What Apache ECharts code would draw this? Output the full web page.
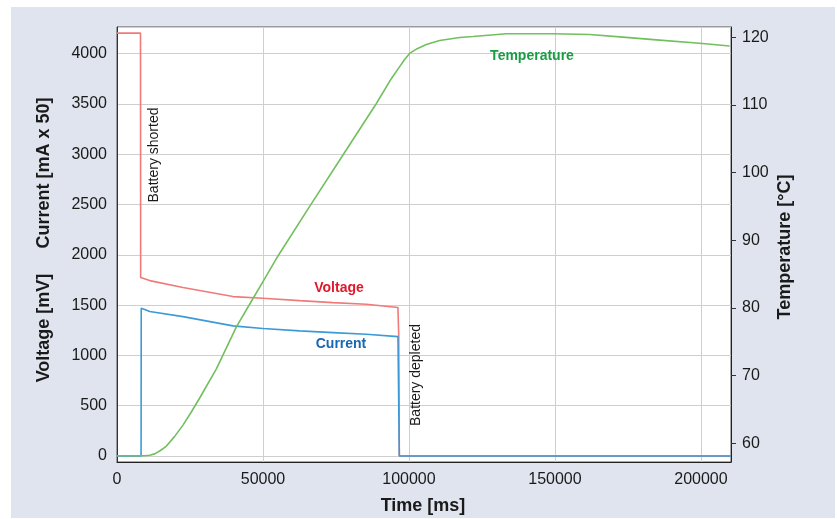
<!DOCTYPE html>
<html>
<head>
<meta charset="utf-8">
<script src="https://cdn.jsdelivr.net/npm/echarts@6.0.0/dist/echarts.min.js"></script>
<style>
  html, body { margin: 0; padding: 0; background: #fff; }
  #chart {
    width: 837px;
    height: 519px;
    background: linear-gradient(#dfe4ee, #dfe4ee) 11px 7px / 824px 511px no-repeat, #fff;
  }
</style>
</head>
<body>
<div id="chart"></div>
<script>
// time [ms] / value pairs
const voltage = [
  [0, 4205], [8050, 4205], [8100, 1775], [11200, 1744], [22600, 1675],
  [39730, 1585], [50000, 1569], [62570, 1545], [73970, 1525], [85410, 1509],
  [96230, 1476], [96500, 1190], [96700, 0], [210300, 0]
]
const current = [
  [0, 0], [8250, 0], [8300, 1470], [9700, 1455], [11200, 1436], [22600, 1386],
  [39730, 1294], [50000, 1267], [62570, 1244], [73970, 1227], [85410, 1211],
  [96230, 1187], [96700, 0], [210300, 0]
]
const temperature = [
  [0, 58.17], [9490, 58.17], [11200, 58.25], [12910, 58.45], [14900, 58.95], [16920, 59.6],
  [19700, 61.0], [22600, 62.7], [25400, 64.6], [28320, 66.7], [34040, 71.0], [40890, 77.2],
  [46580, 81.4], [50000, 83.9], [54590, 87.3], [65990, 95.0], [77400, 102.6], [88840, 110.2],
  [94000, 113.9], [96820, 115.65], [98500, 116.7], [100240, 117.6], [102800, 118.3],
  [105960, 118.9], [110510, 119.5], [117360, 119.95], [121920, 120.1],
  [133360, 120.5], [149320, 120.5], [161880, 120.4], [173290, 120.0], [184730, 119.6],
  [199560, 119.1], [209830, 118.7]
]

const chart = echarts.init(document.getElementById('chart'), null, { renderer: 'canvas' })

const plain = v => String(v)
const labelFont = { color: '#1a1a1a', fontSize: 16, fontFamily: 'Liberation Sans, Arial, sans-serif', formatter: plain }
const boldText = (x, y, text, rot, size, color) => ({
  type: 'text', x: x, y: y, rotation: rot, z: 100,
  style: {
    text: text, fill: color || '#1a1a1a', align: 'center', verticalAlign: 'middle',
    font: 'bold ' + size + 'px "Liberation Sans", Arial, sans-serif'
  }
})
const plainText = (x, y, text) => ({
  type: 'text', x: x, y: y, rotation: Math.PI / 2, z: 100,
  style: {
    text: text, fill: '#1a1a1a', align: 'center', verticalAlign: 'middle',
    font: '14px "Liberation Sans", Arial, sans-serif'
  }
})

const option = {
  backgroundColor: 'transparent',
  animation: false,
  grid: {
    left: 117, right: 106, top: 27, bottom: 57,
    show: true, backgroundColor: '#fff', borderColor: '#555', borderWidth: 1
  },
  xAxis: {
    type: 'value', min: 0, max: 210300, splitNumber: 4,
    axisLine: { show: true, onZero: false, lineStyle: { color: '#222' } },
    axisTick: { show: false },
    axisLabel: Object.assign({ margin: 10, showMaxLabel: false }, labelFont),
    splitLine: { show: true, lineStyle: { color: '#cfcfcf' } }
  },
  yAxis: [
    {
      type: 'value', min: -60, max: 4266, splitNumber: 8,
      axisLine: { show: true, onZero: false, lineStyle: { color: '#333' } },
      axisTick: { show: false },
      axisLabel: Object.assign({ margin: 10, showMinLabel: false, showMaxLabel: false }, labelFont),
      splitLine: { show: true, lineStyle: { color: '#cfcfcf' } }
    },
    {
      type: 'value', position: 'right', min: 57.25, max: 121.5, splitNumber: 6,
      axisLine: { show: true, onZero: false, lineStyle: { color: '#222' } },
      axisTick: { show: true, length: 5, lineStyle: { color: '#333' } },
      axisLabel: Object.assign({ margin: 11, showMinLabel: false, showMaxLabel: false }, labelFont),
      splitLine: { show: false }
    }
  ],
  series: [
    {
      name: 'Voltage', type: 'line', data: voltage, yAxisIndex: 0, showSymbol: false, z: 2,
      lineStyle: { color: '#f07a7a', width: 1.6 }
    },
    {
      name: 'Current', type: 'line', data: current, yAxisIndex: 0, showSymbol: false, z: 3,
      lineStyle: { color: '#3d9ad8', width: 1.6 }
    },
    {
      name: 'Temperature', type: 'line', data: temperature, yAxisIndex: 1, showSymbol: false, z: 4,
      lineStyle: { color: '#72bf5e', width: 1.6 }
    }
  ],
  graphic: [
    boldText(44, 173, 'Current [mA x 50]', Math.PI / 2, 18),
    boldText(44, 328, 'Voltage [mV]', Math.PI / 2, 18),
    boldText(785, 247, 'Temperature [°C]', Math.PI / 2, 18),
    boldText(423, 506, 'Time [ms]', 0, 18),
    boldText(339, 288, 'Voltage', 0, 14, '#e0182c'),
    boldText(341, 344, 'Current', 0, 14, '#1767b2'),
    boldText(532, 56, 'Temperature', 0, 14, '#1a9c45'),
    plainText(154, 155, 'Battery shorted'),
    plainText(416, 375, 'Battery depleted')
  ]
}

chart.setOption(option)
</script>
</body>
</html>
